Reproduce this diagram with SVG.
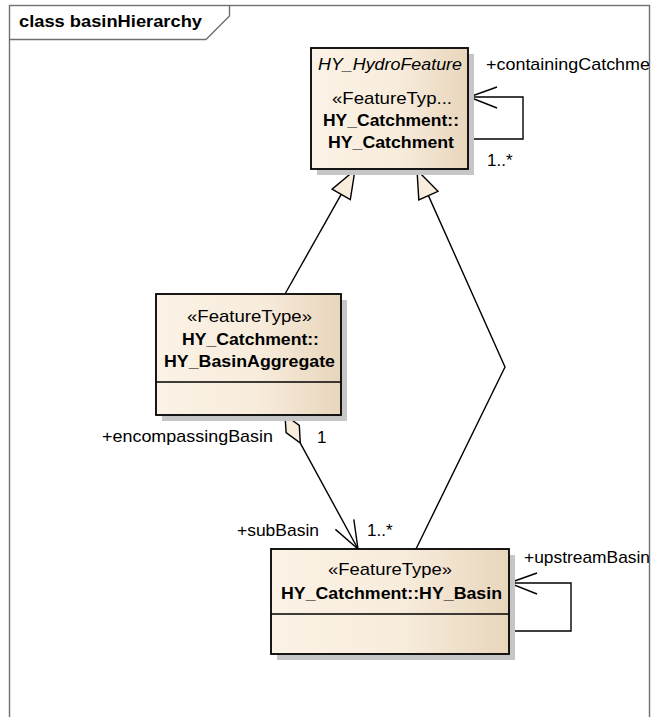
<svg xmlns="http://www.w3.org/2000/svg" width="656" height="717" viewBox="0 0 656 717">
  <style>
    text { font-family: "Liberation Sans", Arial, sans-serif; font-size: 17px; fill: #000; }
    .b { font-weight: bold; }
    .i { font-style: italic; }
    .c { text-anchor: middle; }
    .box { fill: url(#g); stroke: #000; stroke-width: 1.8; }
    .shadow { fill: #c6c6c6; }
    .div { stroke: #000; stroke-width: 1.6; }
    .ln { fill: none; stroke: #000; stroke-width: 1.4; }
    .head { fill: #f8eddc; stroke: #000; stroke-width: 1.4; stroke-linejoin: miter; }
    .frame { fill: none; stroke: #707070; stroke-width: 1.4; }
  </style>
  <defs>
    <linearGradient id="g" x1="0" y1="0" x2="1" y2="0">
      <stop offset="0" stop-color="#fbf3e6"/>
      <stop offset="0.55" stop-color="#f8ecdc"/>
      <stop offset="1" stop-color="#e8d6bc"/>
    </linearGradient>
    <clipPath id="fc">
      <rect x="0" y="0" width="649" height="717"/>
    </clipPath>
  </defs>
  <rect width="656" height="717" fill="#fff"/>

  <g id="frame">
    <rect class="frame" x="9.5" y="5.5" width="640" height="730"/>
    <path class="frame" d="M9.5,39.5 H206 L229.5,16 V5.5"/>
    <text class="b" x="19" y="27" textLength="183" lengthAdjust="spacingAndGlyphs">class basinHierarchy</text>
  </g>

  <g id="connectors">
    <!-- HY_BasinAggregate generalizes HY_Catchment -->
    <g id="gen1">
      <line class="ln" x1="285" y1="294" x2="341.2" y2="194.4"/>
      <polygon class="head" points="355,170 350.3,199.6 332.1,189.2"/>
    </g>
    <!-- HY_Basin generalizes HY_Catchment -->
    <g id="gen2">
      <polyline class="ln" points="416,549 505,367 428.4,195.6"/>
      <polygon class="head" points="417,170 438,191.3 418.8,199.9"/>
    </g>
    <!-- aggregation encompassingBasin / subBasin -->
    <g id="agg">
      <line class="ln" x1="300.3" y1="443.1" x2="358" y2="549"/>
      <polygon class="head" points="285,415 299.3,425.4 300.3,443.1 286.1,432.6"/>
      <polyline class="ln" points="353.8,519.4 358,549 335.4,529.4"/>
      <text x="102" y="442" textLength="171" lengthAdjust="spacingAndGlyphs">+encompassingBasin</text>
      <text x="317" y="443">1</text>
      <text x="237" y="536" textLength="82" lengthAdjust="spacingAndGlyphs">+subBasin</text>
      <text x="367" y="536">1..*</text>
    </g>
    <!-- self association containingCatchment -->
    <g id="selfCatchment">
      <polyline class="ln" points="468,139 523,139 523,97 469,97"/>
      <polyline class="ln" points="497,87 469,97 497,108"/>
      <text x="486" y="70" clip-path="url(#fc)" textLength="164" lengthAdjust="spacingAndGlyphs">+containingCatchme</text>
      <text x="487" y="166">1..*</text>
    </g>
    <!-- self association upstreamBasin -->
    <g id="selfBasin">
      <polyline class="ln" points="509,631 571,631 571,583 509,583"/>
      <polyline class="ln" points="537,573 509,583 537,594"/>
      <text x="524" y="563" clip-path="url(#fc)" textLength="126" lengthAdjust="spacingAndGlyphs">+upstreamBasin</text>
    </g>
  </g>

  <g id="HY_Catchment">
    <rect class="shadow" x="317" y="54" width="157" height="121"/>
    <rect class="box" x="311" y="48" width="157" height="121"/>
    <text class="i c" x="390" y="70" textLength="144" lengthAdjust="spacingAndGlyphs">HY_HydroFeature</text>
    <text class="c" x="392" y="104" textLength="120" lengthAdjust="spacingAndGlyphs">«FeatureTyp...</text>
    <text class="b c" x="391" y="126" textLength="136" lengthAdjust="spacingAndGlyphs">HY_Catchment::</text>
    <text class="b c" x="391" y="148" textLength="126" lengthAdjust="spacingAndGlyphs">HY_Catchment</text>
  </g>

  <g id="HY_BasinAggregate">
    <rect class="shadow" x="162" y="300" width="185" height="121"/>
    <rect class="box" x="156" y="294" width="185" height="121"/>
    <line class="div" x1="156" y1="382" x2="341" y2="382"/>
    <text class="c" x="249.5" y="322" textLength="125" lengthAdjust="spacingAndGlyphs">«FeatureType»</text>
    <text class="b c" x="250.5" y="345" textLength="137" lengthAdjust="spacingAndGlyphs">HY_Catchment::</text>
    <text class="b c" x="249.5" y="367" textLength="171" lengthAdjust="spacingAndGlyphs">HY_BasinAggregate</text>
  </g>

  <g id="HY_Basin">
    <rect class="shadow" x="277" y="555" width="238" height="105"/>
    <rect class="box" x="271" y="549" width="238" height="105"/>
    <line class="div" x1="271" y1="614" x2="509" y2="614"/>
    <text class="c" x="390" y="575" textLength="124" lengthAdjust="spacingAndGlyphs">«FeatureType»</text>
    <text class="b c" x="391.5" y="599" textLength="221" lengthAdjust="spacingAndGlyphs">HY_Catchment::HY_Basin</text>
  </g>
</svg>
